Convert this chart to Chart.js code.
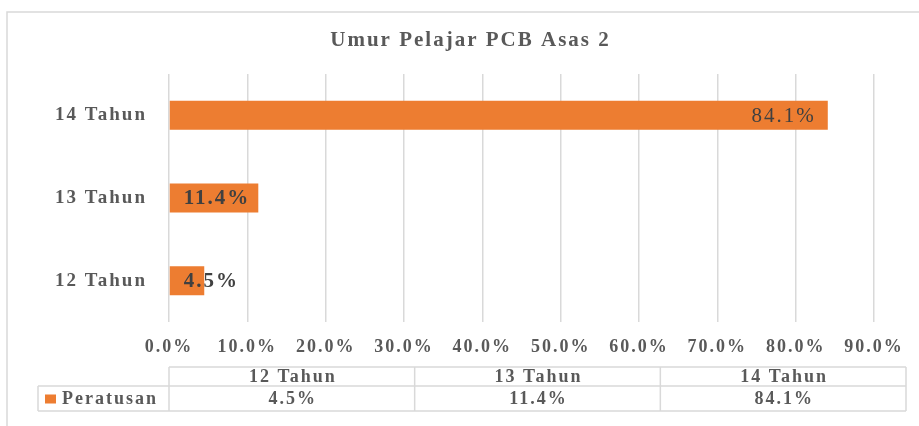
<!DOCTYPE html>
<html>
<head>
<meta charset="utf-8">
<script src="https://cdn.jsdelivr.net/npm/chart.js@4/dist/chart.umd.min.js"></script>
<style>
  html, body { margin: 0; padding: 0; background: #fff; }
  #wrap { width: 919px; height: 426px; }
</style>
</head>
<body>
<div id="wrap"><canvas id="myChart" width="919" height="426"></canvas></div>
<script>
// data
const categories = ['12 Tahun', '13 Tahun', '14 Tahun'];
const peratusan = [4.5, 11.4, 84.1];
const seriesName = 'Peratusan';
const xTicks = [0, 10, 20, 30, 40, 50, 60, 70, 80, 90];
const chartTitle = 'Umur Pelajar PCB Asas 2';

// styles
const barColor = '#ED7D31';
const textColor = '#595959';
const lineColor = '#d9d9d9';
const labelWeights = ['bold', 'bold', 'normal'];
const serif = '"Liberation Serif", "Times New Roman", serif';
const spacing = '2px';

function pct(v) {
    return v.toFixed(1) + '%';
}

// stretch text a bit like the original
const spacingPlugin = {
    id: 'spacing',
    beforeLayout(chart) { chart.ctx.letterSpacing = spacing; },
    beforeDraw(chart) { chart.ctx.letterSpacing = spacing; }
};

// white background, outer frame and title
const framePlugin = {
    id: 'frame',
    beforeDraw(chart) {
        const ctx = chart.ctx;
        ctx.save();
        ctx.fillStyle = '#fff';
        ctx.fillRect(0, 0, chart.width, chart.height);
        ctx.strokeStyle = lineColor;
        ctx.lineWidth = 1.5;
        ctx.beginPath();
        ctx.moveTo(7, chart.height);
        ctx.lineTo(7, 12);
        ctx.lineTo(chart.width, 12);
        ctx.stroke();

        // title, a bit right of centre like the original
        ctx.letterSpacing = spacing;
        ctx.font = 'bold 21px ' + serif;
        ctx.fillStyle = textColor;
        ctx.textAlign = 'left';
        ctx.textBaseline = 'middle';
        const w = ctx.measureText(chartTitle).width;
        ctx.fillText(chartTitle, chart.width / 2 + 11 - w / 2, 41);
        ctx.restore();
    }
};

// value labels on bars
const labelPlugin = {
    id: 'barLabels',
    afterDatasetsDraw(chart) {
        const ctx = chart.ctx;
        const meta = chart.getDatasetMeta(0);
        ctx.save();
        ctx.letterSpacing = spacing;
        ctx.fillStyle = '#404040';
        ctx.textAlign = 'left';
        ctx.textBaseline = 'middle';
        meta.data.forEach((bar, i) => {
            const text = pct(peratusan[i]);
            ctx.font = labelWeights[i] + ' 21px ' + serif;
            const w = ctx.measureText(text).width;
            const right = Math.max(bar.base + 14 + w, bar.x - 12);
            ctx.fillText(text, right - w, bar.y + 1);
        });
        ctx.restore();
    }
};

// data table under the axis
const tablePlugin = {
    id: 'dataTable',
    afterDraw(chart) {
        const ctx = chart.ctx;
        const area = chart.chartArea;
        const left = area.left;
        const right = chart.width - 13;
        const top = area.bottom + 45;
        const mid = top + 19;
        const bottom = mid + 25;
        const legendLeft = 38;
        const colW = (right - left) / categories.length;

        ctx.save();
        ctx.strokeStyle = lineColor;
        ctx.lineWidth = 1.5;
        ctx.beginPath();
        // horizontal lines
        ctx.moveTo(left, top); ctx.lineTo(right, top);
        ctx.moveTo(legendLeft, mid); ctx.lineTo(right, mid);
        ctx.moveTo(legendLeft, bottom); ctx.lineTo(right, bottom);
        // vertical lines
        ctx.moveTo(legendLeft, mid); ctx.lineTo(legendLeft, bottom);
        for (let i = 0; i <= categories.length; i++) {
            const x = left + colW * i;
            ctx.moveTo(x, top); ctx.lineTo(x, bottom);
        }
        ctx.stroke();

        ctx.letterSpacing = spacing;
        ctx.fillStyle = textColor;
        ctx.font = 'bold 18px ' + serif;
        ctx.textAlign = 'left';
        ctx.textBaseline = 'middle';
        categories.forEach((c, i) => {
            const cx = left + colW * i + colW / 2;
            const w1 = ctx.measureText(c).width;
            const v = pct(peratusan[i]);
            const w2 = ctx.measureText(v).width;
            ctx.fillText(c, cx - w1 / 2 + 1, (top + mid) / 2 + 1);
            ctx.fillText(v, cx - w2 / 2 + 1, (mid + bottom) / 2 + 1);
        });

        // legend key
        ctx.fillStyle = barColor;
        ctx.fillRect(45, (mid + bottom) / 2 - 4, 11, 9);
        ctx.fillStyle = textColor;
        ctx.fillText(seriesName, 62, (mid + bottom) / 2 + 1);
        ctx.restore();
    }
};

const ctx = document.getElementById('myChart').getContext('2d');
const myChart = new Chart(ctx, {
    type: 'bar',
    data: {
        labels: categories,
        datasets: [{
            label: seriesName,
            data: peratusan,
            backgroundColor: barColor,
            borderWidth: 0,
            barPercentage: 0.35,
            categoryPercentage: 1
        }]
    },
    options: {
        indexAxis: 'y',
        responsive: false,
        animation: false,
        devicePixelRatio: 1,
        layout: {
            padding: { left: 10, right: 45, top: 74, bottom: 0 }
        },
        scales: {
            x: {
                min: 0,
                max: 90,
                afterBuildTicks(scale) {
                    scale.ticks = xTicks.map(v => ({ value: v }));
                },
                afterFit(scale) { scale.height = 104; },
                grid: {
                    color: lineColor,
                    lineWidth: 1.5,
                    drawTicks: false
                },
                border: { display: false },
                ticks: {
                    padding: 15,
                    color: textColor,
                    font: { family: serif, size: 18, weight: 'bold' },
                    callback: v => pct(v)
                }
            },
            y: {
                reverse: true,
                afterFit(scale) { scale.width = 159; },
                grid: { display: false },
                border: { display: false },
                ticks: {
                    padding: 14,
                    color: textColor,
                    font: { family: serif, size: 19, weight: 'bold' }
                }
            }
        },
        plugins: {
            legend: { display: false },
            tooltip: { enabled: false },
            title: { display: false }
        }
    },
    plugins: [spacingPlugin, framePlugin, labelPlugin, tablePlugin]
});
</script>
</body>
</html>
